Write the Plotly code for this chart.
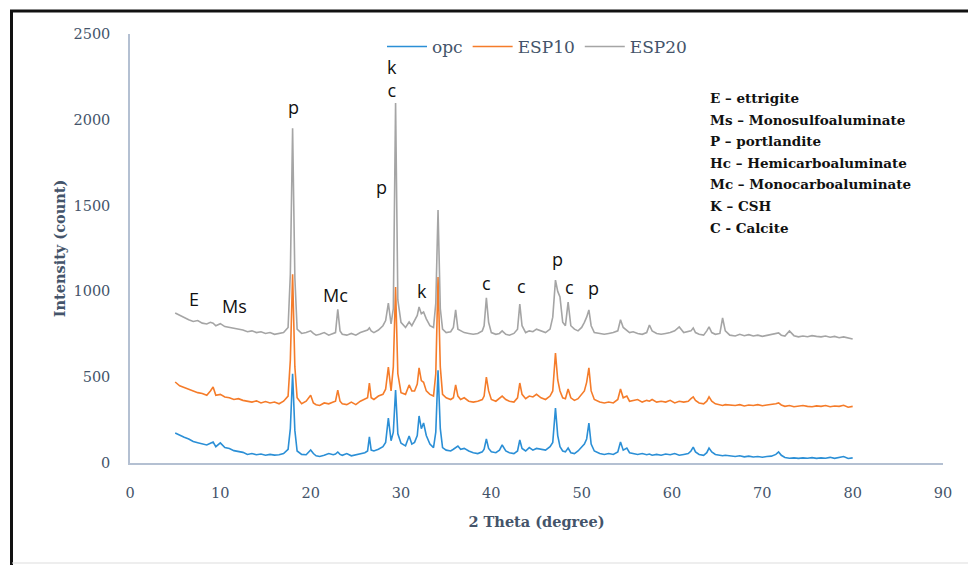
import plotly.graph_objects as go

# 2-theta positions (degrees)
two_theta = [
    5.0, 5.5, 6.0, 6.5, 7.0, 7.5, 8.0, 8.5, 8.9, 9.2,
    9.5, 10.0, 10.5, 11.0, 11.5, 12.0, 12.5, 13.0, 13.5, 14.0,
    14.5, 15.0, 15.5, 16.0, 16.5, 17.0, 17.5, 17.75, 18.0, 18.25,
    18.5, 19.0, 19.5, 20.0, 20.3, 20.6, 21.0, 21.5, 22.0, 22.5,
    22.75, 23.0, 23.25, 23.5, 24.0, 24.5, 25.0, 25.5, 26.0, 26.3,
    26.5, 26.7, 27.0, 27.5, 28.0, 28.3, 28.6, 28.9, 29.15, 29.4,
    29.65, 30.0, 30.5, 30.9, 31.2, 31.5, 31.8, 32.0, 32.25, 32.5,
    32.8, 33.2, 33.6, 33.85, 34.1, 34.35, 34.6, 35.0, 35.5, 35.8,
    36.05, 36.3, 36.6, 37.0, 37.5, 38.0, 38.5, 39.0, 39.2, 39.45,
    39.7, 40.0, 40.5, 40.9, 41.2, 41.6, 42.0, 42.5, 42.9, 43.15,
    43.4, 43.8, 44.2, 44.6, 45.0, 45.5, 46.0, 46.5, 46.8, 47.1,
    47.35, 47.6, 47.9, 48.2, 48.5, 48.8, 49.2, 49.6, 50.0, 50.3,
    50.55, 50.8, 51.05, 51.4, 52.0, 52.5, 53.0, 53.5, 54.0, 54.3,
    54.6, 55.0, 55.3, 55.7, 56.2, 56.7, 57.2, 57.5, 57.8, 58.3,
    58.8, 59.3, 59.8, 60.3, 60.8, 61.3, 61.8, 62.1, 62.35, 62.6,
    63.0, 63.5, 63.85, 64.1, 64.4, 64.8, 65.3, 65.6, 65.9, 66.4,
    67.0, 67.5, 68.0, 68.5, 69.0, 69.5, 70.0, 70.5, 71.0, 71.5,
    71.8, 72.1, 72.5, 73.0, 73.5, 74.0, 74.5, 75.0, 75.5, 76.0,
    76.5, 77.0, 77.5, 78.0, 78.5, 79.0, 79.5, 80.0,
]

opc = [
    175, 160, 150, 140, 125, 118, 110, 105, 115, 122,
    95, 117, 90, 85, 72, 68, 62, 50, 55, 48,
    52, 45, 50, 46, 48, 55, 80, 200, 520, 190,
    70, 50, 48, 76, 55, 42, 38, 45, 55, 48,
    52, 64, 50, 45, 55, 42, 48, 55, 60, 70,
    152, 75, 70, 80, 95, 120, 262, 130, 180, 425,
    170, 115, 100, 157, 110, 120, 160, 274, 200, 233,
    160, 110, 90, 180, 540, 200, 90, 75, 70, 80,
    90, 99, 80, 85, 70, 60, 55, 65, 80, 140,
    85, 65, 60, 75, 105, 70, 60, 55, 70, 134,
    85, 70, 90, 75, 85, 80, 75, 95, 120, 320,
    160, 95, 70, 65, 87, 60, 55, 70, 90, 110,
    140, 233, 110, 70, 55, 50, 55, 50, 65, 122,
    75, 87, 60, 55, 50, 55, 48, 52, 45, 50,
    45, 52, 48, 55, 45, 50, 55, 70, 93, 65,
    50, 45, 60, 87, 65, 50, 45, 42, 45, 40,
    38, 42, 36, 40, 35, 38, 34, 38, 40, 50,
    64, 45, 32, 28, 30, 27, 30, 28, 31, 27,
    30, 28, 33, 27, 32, 38, 26, 30,
]

esp10 = [
    472, 450, 440, 430, 420, 410, 405, 395, 420, 443,
    395, 400, 385, 380, 370, 375, 365, 360, 355, 362,
    350, 358, 350, 355, 345, 360, 390, 600, 1100, 560,
    380, 345, 360, 395, 350, 340, 335, 350, 345, 355,
    360, 425, 360, 345, 340, 355, 340, 360, 375, 380,
    466, 380, 370, 390, 400, 430, 559, 420, 560, 1026,
    520, 410, 400, 455, 420, 420, 460, 554, 480, 470,
    420, 400, 390, 520, 1084, 560, 400, 380, 370, 380,
    455, 390, 370, 380, 360, 355, 360, 370, 390, 501,
    420, 370, 360, 375, 390, 370, 360, 355, 380, 466,
    400, 375, 390, 385, 400, 380, 370, 390, 420, 641,
    484, 420, 380, 375, 431, 380, 365, 375, 400, 420,
    470, 554, 420, 370, 355, 350, 355, 350, 370, 431,
    380, 390, 360, 365, 370, 355, 365, 360, 370, 355,
    360, 355, 365, 350, 360, 355, 360, 375, 385, 365,
    350, 345, 360, 385, 360, 345, 340, 335, 340, 338,
    335, 340, 332, 338, 335, 340, 334, 338, 340, 345,
    350, 338, 330, 335, 328, 332, 335, 330, 328, 333,
    330, 335, 328, 332, 330, 336, 325, 330,
]

esp20 = [
    874, 860, 850, 835, 825, 830, 815, 810, 820, 815,
    800, 812, 795, 790, 785, 780, 775, 765, 770, 760,
    765, 755, 760, 750, 755, 760, 790, 1100, 1950, 1080,
    780, 755, 760, 770, 755, 745, 750, 760, 745, 755,
    760, 895, 770, 750, 745, 755, 745, 760, 770, 775,
    787, 770, 760, 775, 800, 830, 932, 810, 900, 2098,
    950, 820, 790, 822, 800, 830, 860, 909, 870, 880,
    840, 800, 790, 930, 1474, 900, 780, 760, 765, 790,
    892, 780, 770, 760, 755, 750, 755, 770, 800, 962,
    820, 760, 750, 755, 770, 750, 745, 755, 780, 926,
    800, 760, 770, 765, 780, 770, 760, 780, 850, 1066,
    1000, 967, 820, 800, 938, 800, 780, 770, 790, 820,
    850, 892, 800, 760, 755, 750, 755, 760, 770, 835,
    790, 770, 760, 765, 755, 750, 760, 804, 770, 755,
    750, 755, 760, 770, 793, 760, 765, 770, 787, 760,
    750, 745, 770, 793, 760, 750, 755, 845, 770, 745,
    740, 750, 742, 748, 740, 745, 738, 744, 748, 752,
    758, 745, 740, 769, 742, 735, 740, 736, 742, 738,
    735, 740, 733, 738, 730, 735, 728, 723,
]

series_names = ["opc", "ESP10", "ESP20"]
series_colors = ["#2b8fd6", "#f57c2a", "#a5a5a5"]

# Phase labels placed above peaks: (text, 2theta, intensity)
peak_labels = [
    ("p", 18.05, 2075), ("k<br>c", 29.0, 2243), ("p", 27.8, 1608),
    ("E", 7.1, 956), ("Ms", 11.6, 915), ("Mc", 22.8, 979), ("k", 32.3, 1002),
    ("c", 39.5, 1049), ("c", 43.3, 1032), ("p", 47.3, 1189), ("c", 48.6, 1026),
    ("p", 51.3, 1020),
]

key_lines = [
    "E – ettrigite",
    "Ms – Monosulfoaluminate",
    "P – portlandite",
    "Hc – Hemicarboaluminate",
    "Mc – Monocarboaluminate",
    "K – CSH",
    "C - Calcite",
]

SERIF = "DejaVu Serif, Liberation Serif, serif"
SLATE = "#44546a"

fig = go.Figure()
for name, ys, col in zip(series_names, [opc, esp10, esp20], series_colors):
    fig.add_trace(go.Scatter(x=two_theta, y=ys, mode="lines", name=name,
                             line=dict(color=col, width=1.6)))

W, H = 968, 565
L, R, T, B = 130, 25, 34, 102
pw, ph = W - L - R, H - T - B


def px2paper_x(px):
    return (px - L) / pw


def px2paper_y(py):
    return (H - B - py) / ph


annotations = []
for txt, xv, yv in peak_labels:
    annotations.append(dict(x=xv, y=yv, xref="x", yref="y", text=txt, showarrow=False,
                            font=dict(family="Open Sans, Noto Sans, sans-serif", size=18, color="#111111"),
                            xanchor="center", yanchor="middle"))

key_y_px = [98, 120, 141, 163, 184, 206, 228]
for line, ypx in zip(key_lines, key_y_px):
    annotations.append(dict(x=px2paper_x(708), y=px2paper_y(ypx), xref="paper", yref="paper",
                            text="<b>" + line + "</b>", showarrow=False,
                            font=dict(family=SERIF, size=13.5, color="#111111"),
                            xanchor="left", yanchor="middle"))

shapes = [
    # outer frame (left and top dark edges, bottom light edge)
    dict(type="line", xref="paper", yref="paper", x0=px2paper_x(11.5), x1=px2paper_x(11.5),
         y0=px2paper_y(10), y1=px2paper_y(565), line=dict(color="#111111", width=3)),
    dict(type="line", xref="paper", yref="paper", x0=px2paper_x(10), x1=px2paper_x(968),
         y0=px2paper_y(11), y1=px2paper_y(11), line=dict(color="#111111", width=3)),
    dict(type="line", xref="paper", yref="paper", x0=px2paper_x(12), x1=px2paper_x(968),
         y0=px2paper_y(563), y1=px2paper_y(563), line=dict(color="#dddddd", width=1)),
]

fig.update_layout(
    width=W, height=H,
    margin=dict(l=L, r=R, t=T, b=B, pad=0),
    paper_bgcolor="white", plot_bgcolor="white",
    showlegend=True,
    legend=dict(orientation="h", x=px2paper_x(382), y=px2paper_y(47), xanchor="left", yanchor="middle",
                font=dict(family=SERIF, size=17, color=SLATE), bgcolor="rgba(0,0,0,0)",
                itemwidth=40, traceorder="normal"),
    xaxis=dict(range=[0, 90], dtick=10, tick0=0, showgrid=False, zeroline=False,
               showline=True, linecolor="#b4c0d2", linewidth=1.5, ticks="", ticklabelstandoff=16,
               tickfont=dict(family=SERIF, size=14.5, color=SLATE),
               title=dict(text="<b>2 Theta (degree)</b>", font=dict(family=SERIF, size=14.5, color=SLATE),
                          standoff=17)),
    yaxis=dict(range=[0, 2500], dtick=500, tick0=0, showgrid=False, zeroline=False,
               showline=True, linecolor="#b4c0d2", linewidth=1.5, ticks="", ticklabelstandoff=15,
               tickfont=dict(family=SERIF, size=14.5, color=SLATE),
               title=dict(text="<b>Intensity (count)</b>", font=dict(family=SERIF, size=14.5, color=SLATE),
                          standoff=4)),
    annotations=annotations,
    shapes=shapes,
)

fig.write_html("out.html")
